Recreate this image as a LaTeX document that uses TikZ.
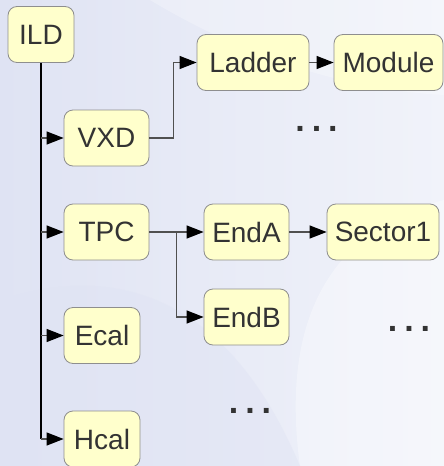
\documentclass[tikz,border=0pt]{standalone}
\usepackage{fontspec}
\setmainfont{Liberation Sans}
\usetikzlibrary{arrows.meta}
\definecolor{bgleft}{HTML}{DFE3F3}
\definecolor{bgright}{HTML}{F1F3FA}
\definecolor{boxfill}{HTML}{FFFFCC}
\definecolor{boxline}{HTML}{8E8E8E}
\definecolor{textcol}{HTML}{333333}
\definecolor{linegray}{HTML}{505050}
\newcommand{\dotgap}{\hspace{7pt}}
\tikzset{
  box/.style={draw=boxline, fill=boxfill, rounded corners=9pt, line width=0.8pt,
    text=textcol, font=\fontsize{28}{32}\selectfont, inner sep=0pt, minimum height=56pt},
  arr/.style={draw=linegray, line width=1.2pt, -{Triangle[length=17pt,width=13pt,color=black]}},
  trunk/.style={draw=black, line width=1.4pt},
  more/.style={text=textcol, font=\fontsize{34}{38}\selectfont\bfseries, inner sep=0pt, anchor=base}
}
\begin{document}
\begin{tikzpicture}[x=1pt,y=-1pt]
\useasboundingbox (0,0) rectangle (444,466);
% background with soft swooshes
\shade[left color=bgleft, right color=bgright] (0,0) rectangle (444,466);
\fill[white, opacity=0.35] (444,200) .. controls (330,230) and (280,320) .. (300,466) -- (444,466) -- cycle;
\fill[white, opacity=0.25] (150,0) .. controls (250,60) and (350,90) .. (444,95) -- (444,0) -- cycle;
\fill[bgleft, opacity=0.45] (0,300) .. controls (120,260) and (230,300) .. (300,466) -- (0,466) -- cycle;

% boxes
\node[box, minimum width=66pt]  (ild)    at (41,34.5)  {ILD};
\node[box, minimum width=85pt]  (vxd)    at (106.5,138) {VXD};
\node[box, minimum width=85pt]  (tpc)    at (106.5,232) {TPC};
\node[box, minimum width=76pt]  (ecal)   at (102,335.5) {Ecal};
\node[box, minimum width=76pt]  (hcal)   at (102,439)  {Hcal};
\node[box, minimum width=112pt] (ladder) at (253,62.5) {Ladder};
\node[box, minimum width=109pt] (module) at (388.5,62.5) {Module};
\node[box, minimum width=85pt]  (enda)   at (246.5,232) {EndA};
\node[box, minimum width=85pt]  (endb)   at (246.5,317) {EndB};
\node[box, minimum width=112pt] (sector) at (383,232) {Sector1};

% ellipsis marks
\node[more] (dots1) at (316.5,131) {.\dotgap.\dotgap.};
\node[more] (dots2) at (409,331) {.\dotgap.\dotgap.};
\node[more] (dots3) at (250,413.5) {.\dotgap.\dotgap.};

% tree connectors
\draw[trunk] (ild.south) -- (ild.south |- hcal.west);
\draw[arr] (ild.south |- vxd.west) -- (vxd.west);
\draw[arr] (ild.south |- tpc.west) -- (tpc.west);
\draw[arr] (ild.south |- ecal.west) -- (ecal.west);
\draw[arr] (ild.south |- hcal.west) -- (hcal.west);

\path (vxd.east) ++(24,0) coordinate (vsplit);
\draw[arr] (vxd.east) -- (vsplit) |- (ladder.west);
\draw[arr] (ladder.east) -- (module.west);

\path (tpc.east) ++(27,0) coordinate (tsplit);
\draw[arr] (tpc.east) -- (enda.west);
\draw[arr] (tsplit) |- (endb.west);
\draw[arr] (enda.east) -- (sector.west);
\end{tikzpicture}
\end{document}
